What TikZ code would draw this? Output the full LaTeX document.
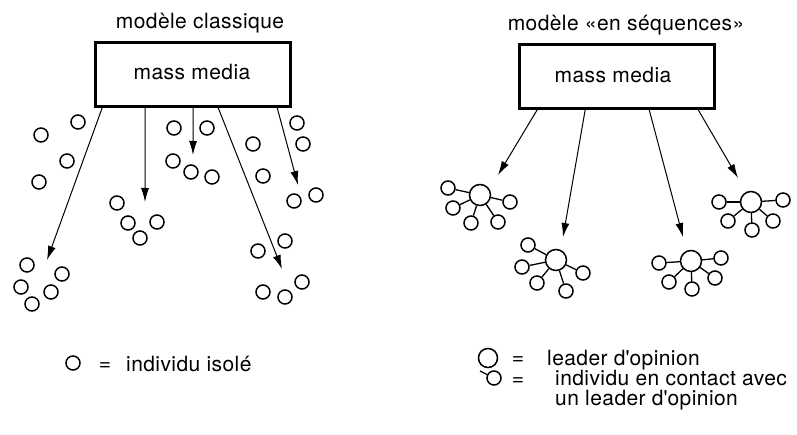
\documentclass[tikz,border=0pt]{standalone}
\usepackage{fontspec}
\setmainfont[LetterSpace=2]{TeX Gyre Heros}
\usetikzlibrary{arrows.meta}

\begin{document}
\begin{tikzpicture}[x=1pt, y=-1pt, font=\fontsize{21}{19.5}\selectfont]
    \tikzstyle{media box} = [rectangle,draw=black,line width=2.6pt,minimum width=195pt,minimum height=64pt,inner sep=0pt]
    \tikzstyle{individu} = [circle,draw=black,line width=1.5pt,inner sep=0pt,minimum size=14pt]
    \tikzstyle{leader} = [individu,minimum size=21pt]
    \tikzstyle{lien} = [draw=black,line width=1.3pt]
    \tikzstyle{flux} = [draw=black,line width=1pt,->,>={Latex[length=14pt,width=8pt]}]
    \tikzstyle{texte} = [inner sep=0pt,anchor=base]
\useasboundingbox (0,0) rectangle (797,435);
% modele classique
\node[texte] (titre1) at (200,29) {modèle classique};
\node[media box] (media1) at (193,74.5) {};
\node[texte] (mm1) at (192,80) {mass media};
\node[individu] (i1) at (78,122) {};
\node[individu] (i2) at (41,135) {};
\node[individu] (i3) at (67,161) {};
\node[individu] (i4) at (39,182) {};
\node[individu] (i5) at (174,128) {};
\node[individu] (i6) at (207,128) {};
\node[individu] (i7) at (173,161) {};
\node[individu] (i8) at (191,172) {};
\node[individu] (i9) at (212,177) {};
\node[individu] (i10) at (253,144) {};
\node[individu] (i11) at (263,176) {};
\node[individu] (i12) at (297,123) {};
\node[individu] (i13) at (303,144) {};
\node[individu] (i14) at (294,201) {};
\node[individu] (i15) at (316,195) {};
\node[individu] (i16) at (117,203) {};
\node[individu] (i17) at (128,223) {};
\node[individu] (i18) at (157,222) {};
\node[individu] (i19) at (140,238) {};
\node[individu] (i20) at (27,265) {};
\node[individu] (i21) at (62,274) {};
\node[individu] (i22) at (21,287) {};
\node[individu] (i23) at (51,292) {};
\node[individu] (i24) at (32,304) {};
\node[individu] (i25) at (285,241) {};
\node[individu] (i26) at (258,251) {};
\node[individu] (i27) at (302,282) {};
\node[individu] (i28) at (263,292) {};
\node[individu] (i29) at (285,297) {};
\coordinate (f1) at (47,260);
\coordinate (f2) at (145,202);
\coordinate (f3) at (193,155);
\coordinate (f4) at (282,269);
\coordinate (f5) at (298,185);
\draw[flux] ([xshift=8pt]media1.south west) to (f1);
\draw[flux] ([xshift=51pt]media1.south west) to (f2);
\draw[flux] ([xshift=99pt]media1.south west) to (f3);
\draw[flux] ([xshift=124pt]media1.south west) to (f4);
\draw[flux] ([xshift=183pt]media1.south west) to (f5);
% modele en sequences
\node[texte] (titre2) at (626,31) {modèle «en séquences»};
\node[media box] (media2) at (617,76.5) {};
\node[texte] (mm2) at (613,83) {mass media};
\node[leader] (la) at (480,195) {};
\node[individu] (la1) at (448,188) {};
\node[individu] (la2) at (510,202) {};
\node[individu] (la3) at (453,208) {};
\node[individu] (la4) at (471,223) {};
\node[individu] (la5) at (498,222) {};
\node[leader] (lb) at (556,260) {};
\node[individu] (lb1) at (528,245) {};
\node[individu] (lb2) at (522,267) {};
\node[individu] (lb3) at (583,273) {};
\node[individu] (lb4) at (537,283) {};
\node[individu] (lb5) at (566,291) {};
\node[leader] (lc) at (691,261) {};
\node[individu] (lc1) at (659,263) {};
\node[individu] (lc2) at (721,258) {};
\node[individu] (lc3) at (669,282) {};
\node[individu] (lc4) at (715,278) {};
\node[individu] (lc5) at (692,289) {};
\node[leader] (ld) at (751,202) {};
\node[individu] (ld1) at (719,202) {};
\node[individu] (ld2) at (783,200) {};
\node[individu] (ld3) at (728,221) {};
\node[individu] (ld4) at (773,221) {};
\node[individu] (ld5) at (752,230) {};
\draw[lien] (la) to (la1);
\draw[lien] (la) to (la2);
\draw[lien] (la) to (la3);
\draw[lien] (la) to (la4);
\draw[lien] (la) to (la5);
\draw[lien] (lb) to (lb1);
\draw[lien] (lb) to (lb2);
\draw[lien] (lb) to (lb3);
\draw[lien] (lb) to (lb4);
\draw[lien] (lb) to (lb5);
\draw[lien] (lc) to (lc1);
\draw[lien] (lc) to (lc2);
\draw[lien] (lc) to (lc3);
\draw[lien] (lc) to (lc4);
\draw[lien] (lc) to (lc5);
\draw[lien] (ld) to (ld1);
\draw[lien] (ld) to (ld2);
\draw[lien] (ld) to (ld3);
\draw[lien] (ld) to (ld4);
\draw[lien] (ld) to (ld5);
\coordinate (g1) at (498,175);
\coordinate (g2) at (563,237);
\coordinate (g3) at (683,237);
\coordinate (g4) at (738,178);
\draw[flux] ([xshift=19pt]media2.south west) to (g1);
\draw[flux] ([xshift=67pt]media2.south west) to (g2);
\draw[flux] ([xshift=131pt]media2.south west) to (g3);
\draw[flux] ([xshift=180pt]media2.south west) to (g4);
% legendes
\node[individu] (legisole) at (73,363) {};
\node[texte] (egal1) at (105,370) {=};
\node[texte,anchor=base west] (txtisole) at (126,371) {individu isolé};
\node[leader,minimum size=19pt] (legleader) at (488,358) {};
\node[texte] (egal2) at (518,364) {=};
\node[texte,anchor=base west] (txtleader) at (547,365) {leader d\textquotesingle opinion};
\coordinate (crochet) at (480,371);
\node[individu] (legcontact) at (494,378) {};
\draw[lien] (crochet) to (legcontact);
\node[texte] (egal3) at (518,385) {=};
\node[inner sep=0pt,anchor=north west,align=left] (txtcontact) at (555,370) {individu en contact avec\\un leader d\textquotesingle opinion};
\end{tikzpicture}
\end{document}
